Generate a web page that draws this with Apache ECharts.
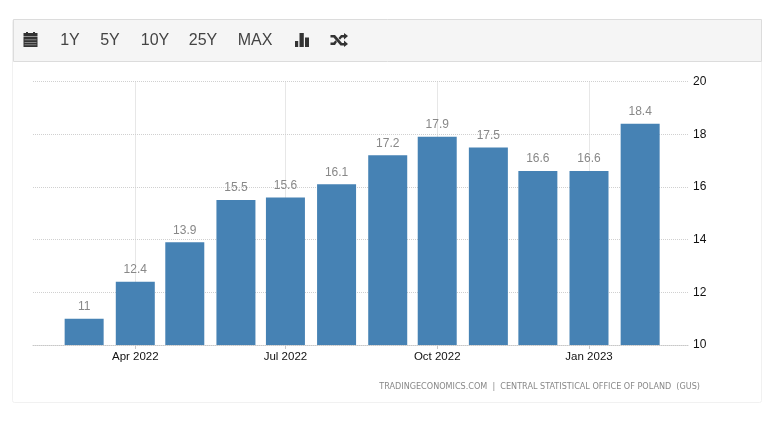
<!DOCTYPE html>
<html><head><meta charset="utf-8">
<script src="https://cdn.jsdelivr.net/npm/echarts@6/dist/echarts.min.js"></script>
<style>html,body{margin:0;padding:0;background:#fff}#c{width:770px;height:430px}</style>
</head><body><div id="c"></div>
<script>
const months = ['2022-03-01','2022-04-01','2022-05-01','2022-06-01','2022-07-01','2022-08-01','2022-09-01','2022-10-01','2022-11-01','2022-12-01','2023-01-01','2023-02-01'];
const values = [11,12.4,13.9,15.5,15.6,16.1,17.2,17.9,17.5,16.6,16.6,18.4];
const labelledMonths = ['2022-04-01','2022-07-01','2022-10-01','2023-01-01'];
const yTicks = [10,12,14,16,18,20];
const rangeButtons = ['1Y','5Y','10Y','25Y','MAX'];
const sourceText = 'TRADINGECONOMICS.COM  |  CENTRAL STATISTICAL OFFICE OF POLAND  (GUS)';

const monthNames = ['Jan','Feb','Mar','Apr','May','Jun','Jul','Aug','Sep','Oct','Nov','Dec'];
const ts = s => Date.parse(s+'T00:00:00Z');
const btnX = [70,110,155,203,255];
const tickVals = labelledMonths.map(ts);
const ink = '#333';
const box = (x,y,width,height,fill) => ({type:'rect',z:5,silent:true,shape:{x,y,width,height},style:{fill:fill||ink}});
const poly = (points) => ({type:'polygon',z:5,silent:true,shape:{points},style:{fill:ink}});

const calendar = [
  box(23.5,33,14,3.5), box(23.5,37,14,10),
  box(26,32,2,2.5), box(33,32,2,2.5),
  box(24.5,39.5,12,.7,'#aaa'), box(24.5,42,12,.7,'#aaa'), box(24.5,44.5,12,.7,'#aaa')
];
const barsIcon = [box(295,41,3.2,6), box(299.5,33,4.3,14), box(305,37.5,4,9.5)];
const shuffle = [
  poly([[330.5,35],[335,35],[342,43],[344,43],[344,40.5],[348,44],[344,47],[344,45.5],[340.5,45.5],[333.5,37.5],[330.5,37.5]]),
  poly([[330.5,42.5],[333.5,42.5],[335.5,40.3],[337,42],[335,45],[330.5,45]]),
  poly([[338.5,38],[341,35],[344,35],[344,33],[348,36],[344,39.5],[344,37.5],[342,37.5],[340,39.8]])
];

const chart = echarts.init(document.getElementById('c'), null, {renderer:'canvas'});
chart.setOption({
  animation:false,
  backgroundColor:'#fff',
  grid:{left:33,right:82,top:81.5,bottom:85,containLabel:false},
  xAxis:{
    type:'value',
    min:ts('2022-01-29'), max:ts('2023-03-02'),
    axisLine:{show:true,onZero:false,lineStyle:{color:'#c8c8c8',type:'dotted',width:1}},
    axisTick:{show:true,length:4,customValues:tickVals,lineStyle:{color:'#c8c8c8'}},
    axisLabel:{
      customValues:tickVals,
      color:'#111',fontFamily:'Liberation Sans',fontSize:11.5,margin:6,hideOverlap:false,
      formatter:v=>{const d=new Date(v);return monthNames[d.getUTCMonth()]+' '+d.getUTCFullYear();}
    },
    splitLine:{show:true,lineStyle:{color:'#d0d0d0',type:'dotted',width:1}}
  },
  yAxis:{
    type:'value',position:'right',min:yTicks[0],max:yTicks[yTicks.length-1],interval:2,
    axisLine:{show:false},axisTick:{show:false},
    axisLabel:{color:'#111',fontFamily:'Liberation Sans',fontSize:12,margin:5},
    splitLine:{show:true,lineStyle:{color:'#d0d0d0',type:'dotted',width:1}}
  },
  series:[{
    type:'bar',barWidth:39,
    data:months.map((m,i)=>[ts(m),values[i]]),
    itemStyle:{color:'#4682b4'},
    label:{show:true,position:'top',distance:6,color:'#888',fontFamily:'Liberation Sans',fontSize:12,
      formatter:p=>String(p.value[1])},
    z:3
  }],
  graphic:[
    {type:'rect',z:-10,silent:true,shape:{x:12.5,y:19.5,width:749,height:383,r:2},style:{fill:'#fff',stroke:'#f1f1f1',lineWidth:1}},
    {type:'rect',z:-9,silent:true,shape:{x:13.5,y:19.5,width:748,height:42},style:{fill:'#f5f5f5',stroke:'#dcdcdc',lineWidth:1}},
    ...rangeButtons.map((t,i)=>({type:'text',z:5,silent:true,style:{text:t,x:btnX[i],y:40.5,align:'center',verticalAlign:'middle',fill:'#444',font:'16px "Liberation Sans"'}})),
    ...calendar, ...barsIcon, ...shuffle,
    {type:'text',z:5,silent:true,style:{text:sourceText,x:700,y:387,align:'right',verticalAlign:'middle',fill:'#888',font:'8.1px "DejaVu Sans"'}}
  ]
});
</script></body></html>
